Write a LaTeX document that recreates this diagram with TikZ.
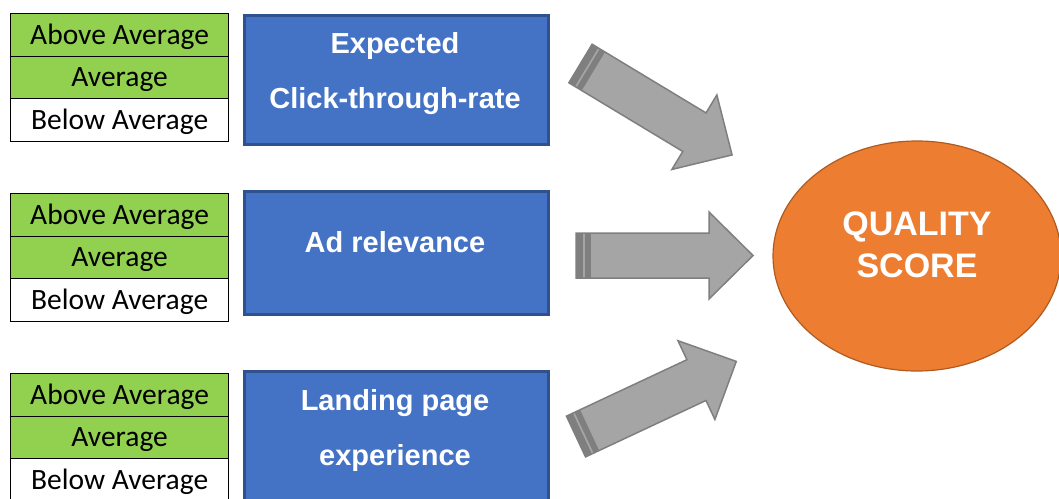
\documentclass[tikz,border=0pt]{standalone}
\usepackage{fontspec}
\usetikzlibrary{shapes.geometric}
\newfontfamily\cellfont{Carlito}
\newfontfamily\boxfont{Liberation Sans}
\definecolor{cellgreen}{HTML}{92D050}
\definecolor{boxblue}{HTML}{4472C4}
\definecolor{boxedge}{HTML}{2F528F}
\definecolor{qsorange}{HTML}{ED7D31}
\definecolor{qsedge}{HTML}{AE5A21}
\definecolor{arrowfill}{HTML}{A5A5A5}
\definecolor{arrowedge}{HTML}{7F7F7F}
\tikzset{
  cell/.style={draw=black, line width=1.2pt, minimum width=218pt, minimum height=42.5pt,
    inner sep=0pt, text height=19pt, text depth=0pt,
    font=\cellfont\fontsize{29.5}{31}\selectfont, anchor=north west},
  good/.style={cell, fill=cellgreen},
  poor/.style={cell, fill=white},
  metric/.style={draw=boxedge, line width=2.5pt, fill=boxblue, minimum width=304pt,
    inner sep=0pt, anchor=north west},
  metrictext/.style={text=white, font=\boxfont\bfseries\fontsize{29}{30}\selectfont,
    anchor=base, inner sep=0pt},
  qstext/.style={text=white, font=\boxfont\bfseries\fontsize{34}{36}\selectfont,
    anchor=base, inner sep=0pt},
  blockarrow/.pic={
    \filldraw[fill=arrowfill, draw=arrowedge, line width=1.5pt, line join=miter]
      (0,-22.5) -- (133,-22.5) -- (133,-43.5) -- (177,0) -- (133,43.5)
      -- (133,22.5) -- (0,22.5) -- cycle;
    \fill[arrowedge] (0,-22.5) rectangle (7,22.5);
    \fill[arrowedge] (9,-22.5) rectangle (15,22.5);
  }
}
\begin{document}
\begin{tikzpicture}[x=1pt,y=-1pt]
\useasboundingbox (0,0) rectangle (1059,498);
% rating tables
\node[good] (a1) at (10,13) {Above Average};
\node[good] (a2) at (10,55.5) {Average};
\node[poor] (a3) at (10,98) {Below Average};
\node[good] (b1) at (10,193) {Above Average};
\node[good] (b2) at (10,235.5) {Average};
\node[poor] (b3) at (10,278) {Below Average};
\node[good] (c1) at (10,373) {Above Average};
\node[good] (c2) at (10,415.5) {Average};
\node[poor] (c3) at (10,458) {Below Average};
% metric boxes
\node[metric, minimum height=129pt] (m1) at (243,14) {};
\node[metric, minimum height=123pt] (m2) at (243,190) {};
\node[metric, minimum height=131pt] (m3) at (243,370) {};
\node[metrictext] (t1a) at (395,53.5) {Expected};
\node[metrictext] (t1b) at (395,108.5) {Click-through-rate};
\node[metrictext] (t2) at (395,252.5) {Ad relevance};
\node[metrictext] (t3a) at (395,410.5) {Landing page};
\node[metrictext] (t3b) at (395,465) {experience};
% block arrows
\pic[rotate=-31.1] at (580.5,63.5) {blockarrow};
\pic at (576,255.5) {blockarrow};
\pic[rotate=25.1] at (576,436.5) {blockarrow};
% quality score
\node[ellipse, fill=qsorange, draw=qsedge, line width=1.2pt, minimum width=288pt,
  minimum height=230pt, inner sep=0pt] (qs) at (917,256) {};
\node[qstext] (q1) at (917,235.5) {QUALITY};
\node[qstext] (q2) at (917,277.5) {SCORE};
\end{tikzpicture}
\end{document}
